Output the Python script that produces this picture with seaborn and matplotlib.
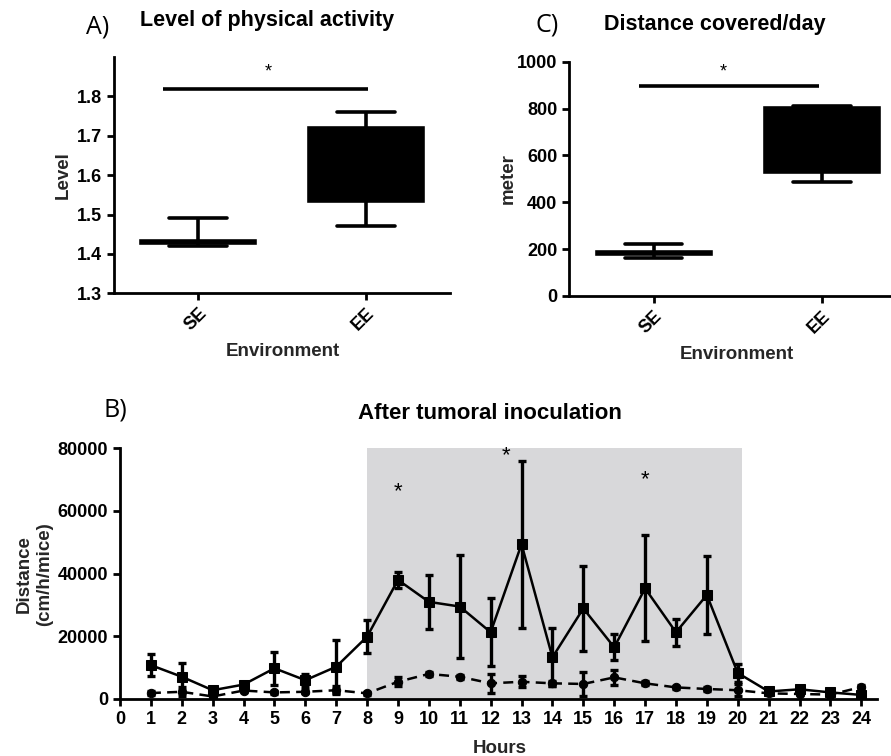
import numpy as np
import pandas as pd
import matplotlib
matplotlib.use("Agg")
import matplotlib.pyplot as plt
import seaborn as sns

# ---------------- data ----------------
groups = ["SE", "EE"]
# five-number summaries (min, Q1, median, Q3, max)
level_SE = [1.42, 1.428, 1.43, 1.432, 1.49]
level_EE = [1.47, 1.535, 1.62, 1.72, 1.76]
meter_SE = [163, 181, 184, 187, 220]
meter_EE = [488, 530, 700, 801, 811]

hours = list(range(1, 25))
ee_mean = [10800, 7100, 2800, 4600, 9800, 6000, 10300, 19900, 38000, 31000, 29500, 21300,
           49400, 13300, 28900, 16500, 35300, 21300, 33200, 8300, 2400, 3100, 2100, 1300]
ee_err = [3500, 4300, 700, 800, 5300, 2100, 8500, 5300, 2600, 8600, 16400, 10900,
          26700, 9200, 13500, 4100, 16900, 4300, 12300, 2800, 600, 600, 500, 500]
se_mean = [1900, 2300, 800, 2700, 2100, 2300, 2800, 1800, 5500, 8000, 7100, 5000,
           5500, 5000, 4800, 6900, 5000, 3700, 3200, 2800, 1800, 1600, 1400, 3800]
se_err = [600, 1500, 500, 600, 500, 500, 1200, 400, 1500, 700, 700, 3000,
          1800, 800, 3700, 2500, 600, 500, 500, 2000, 400, 400, 400, 700]
sig_hours = [9, 12.5, 17]
sig_levels = [66000, 77800, 70000]

# ---------------- style ----------------
sns.set_style("ticks")
plt.rcParams["font.family"] = ["Liberation Sans", "DejaVu Sans"]
plt.rcParams["font.weight"] = "bold"
plt.rcParams["axes.labelweight"] = "bold"
plt.rcParams["axes.linewidth"] = 2
plt.rcParams["xtick.major.width"] = 2
plt.rcParams["ytick.major.width"] = 2
plt.rcParams["xtick.major.size"] = 5
plt.rcParams["ytick.major.size"] = 5
plt.rcParams["xtick.color"] = "black"
plt.rcParams["ytick.color"] = "black"
plt.rcParams["axes.edgecolor"] = "black"
plt.rcParams["text.color"] = "black"

fig = plt.figure(figsize=(8.91, 7.56), dpi=100)
axA = fig.add_axes([0.128, 0.612, 0.377, 0.3126])
axC = fig.add_axes([0.6386, 0.6085, 0.3614, 0.3099])
axB = fig.add_axes([0.1347, 0.0754, 0.8493, 0.3316])

TICK_FS = 13
TICK_FS_B = 13
LAB_FS = 13.5
TITLE_FS = 15.5


def box_panel(ax, se_vals, ee_vals):
    df = pd.DataFrame({
        "Environment": [groups[0]] * len(se_vals) + [groups[1]] * len(ee_vals),
        "value": se_vals + ee_vals,
    })
    sns.boxplot(data=df, x="Environment", y="value", order=groups, ax=ax,
                color="black", linecolor="black", linewidth=2.6, width=0.68,
                whis=(0, 100), showfliers=False, fill=True, saturation=1)
    for p in ax.patches:
        p.set_facecolor("black")
    sns.despine(ax=ax)
    ax.tick_params(axis="both", labelsize=TICK_FS, direction="out")
    for lab in ax.get_xticklabels():
        lab.set_rotation(45)
        lab.set_ha("right")
        lab.set_rotation_mode("anchor")
        lab.set_fontweight("bold")
    for lab in ax.get_yticklabels():
        lab.set_fontweight("bold")


# ---- Panel A ----
box_panel(axA, level_SE, level_EE)
axA.set_ylim(1.3, 1.9)
axA.set_xlim(-0.5, 1.5)
axA.set_yticks([1.3, 1.4, 1.5, 1.6, 1.7, 1.8])
axA.set_yticklabels(["1.3", "1.4", "1.5", "1.6", "1.7", "1.8"], fontweight="bold")
axA.spines["left"].set_bounds(1.3, 1.9)
axA.set_ylabel("Level", fontsize=LAB_FS, fontweight="bold")
axA.yaxis.set_label_coords(-0.125, 0.5)
axA.set_xlabel("Environment", fontsize=LAB_FS, fontweight="bold")
axA.xaxis.set_label_coords(0.503, -0.21)
axA.plot([-0.21, 1.01], [1.82, 1.82], color="black", lw=2.6, solid_capstyle="butt")
axA.text(0.42, 1.862, "*", ha="center", va="center", fontsize=13, fontweight="normal")

# ---- Panel C ----
box_panel(axC, meter_SE, meter_EE)
axC.set_ylim(0, 1000)
axC.set_xlim(-0.504, 1.41)
axC.set_yticks([0, 200, 400, 600, 800, 1000])
axC.set_yticklabels(["0", "200", "400", "600", "800", "1000"], fontweight="bold")
axC.set_ylabel("meter", fontsize=LAB_FS, fontweight="bold")
axC.yaxis.set_label_coords(-0.161, 0.5)
axC.set_xlabel("Environment", fontsize=LAB_FS, fontweight="bold")
axC.xaxis.set_label_coords(0.52, -0.213)
axC.plot([-0.09, 0.98], [896, 896], color="black", lw=2.6, solid_capstyle="butt")
axC.text(0.41, 957, "*", ha="center", va="center", fontsize=13, fontweight="normal")

# ---- Panel B ----
axB.axvspan(8, 20.15, color="#d8d8da", lw=0, zorder=0)
axB.errorbar(hours, se_mean, yerr=se_err, fmt="none", ecolor="black",
             elinewidth=2.4, capsize=3, capthick=2.4, zorder=3)
axB.errorbar(hours, ee_mean, yerr=ee_err, fmt="none", ecolor="black",
             elinewidth=2.4, capsize=3, capthick=2.4, zorder=3)
sns.lineplot(x=hours, y=se_mean, ax=axB, color="black", linewidth=1.8,
             linestyle=(0, (4, 2.5)), marker="o", markersize=6,
             markeredgecolor="black", markerfacecolor="black", zorder=4)
sns.lineplot(x=hours, y=ee_mean, ax=axB, color="black", linewidth=1.8,
             marker="s", markersize=6.5, markeredgecolor="black",
             markerfacecolor="black", zorder=5)
for h, lv in zip(sig_hours, sig_levels):
    axB.text(h, lv, "*", ha="center", va="center", fontsize=16, fontweight="normal")
axB.set_xlim(0, 24.5)
axB.set_ylim(0, 80000)
axB.set_xticks(range(0, 25))
axB.set_xticklabels([str(i) for i in range(0, 25)], fontweight="bold")
axB.set_yticks([0, 20000, 40000, 60000, 80000])
axB.set_yticklabels(["0", "20000", "40000", "60000", "80000"], fontweight="bold")
axB.tick_params(axis="both", labelsize=TICK_FS_B, direction="out")
sns.despine(ax=axB)
axB.set_xlabel("Hours", fontsize=LAB_FS, fontweight="bold")
axB.xaxis.set_label_coords(0.502, -0.164)
axB.set_ylabel("Distance\n(cm/h/mice)", fontsize=LAB_FS, fontweight="bold",
               linespacing=1.25)
axB.yaxis.set_label_coords(-0.0885, 0.5)

# ---- titles & panel letters ----
fig.text(0.2997, 0.9735, "Level of physical activity", ha="center", va="center",
         fontsize=TITLE_FS, fontweight="bold")
fig.text(0.8025, 0.967, "Distance covered/day", ha="center", va="center",
         fontsize=TITLE_FS, fontweight="bold")
fig.text(0.55, 0.4537, "After tumoral inoculation", ha="center", va="center",
         fontsize=TITLE_FS + 0.5, fontweight="bold")
for txt, x, y in [("A)", 0.11, 0.964), ("C)", 0.614, 0.967), ("B)", 0.129, 0.4577)]:
    fig.text(x, y, txt, ha="center", va="center", fontsize=18,
             fontweight="normal", family=["Open Sans", "DejaVu Sans"])

fig.savefig("out.png", dpi=100)
